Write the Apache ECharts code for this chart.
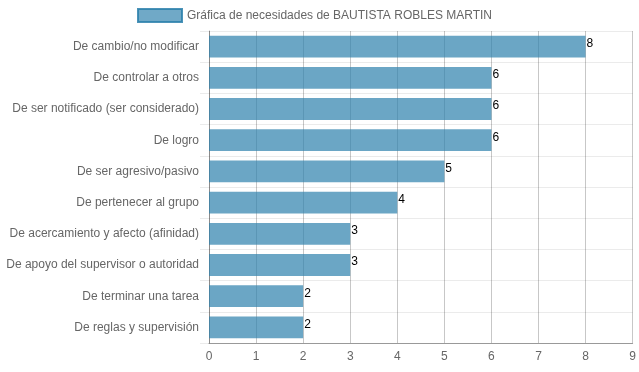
<!DOCTYPE html>
<html>
<head>
<meta charset="utf-8">
<script src="https://cdn.jsdelivr.net/npm/echarts@6/dist/echarts.min.js"></script>
<style>
html,body{margin:0;padding:0;background:#fff;}
#chart{width:639px;height:372px;}
</style>
</head>
<body>
<div id="chart"></div>
<script>
const categories = [
  "De cambio/no modificar",
  "De controlar a otros",
  "De ser notificado (ser considerado)",
  "De logro",
  "De ser agresivo/pasivo",
  "De pertenecer al grupo",
  "De acercamiento y afecto (afinidad)",
  "De apoyo del supervisor o autoridad",
  "De terminar una tarea",
  "De reglas y supervisión"
];
const values = [8, 6, 6, 6, 5, 4, 3, 3, 2, 2];
const seriesName = "Gráfica de necesidades de BAUTISTA ROBLES MARTIN";

const chart = echarts.init(document.getElementById('chart'), null, {renderer: 'canvas'});
const font = "'Liberation Sans', Arial, sans-serif";
chart.setOption({
  animation: false,
  textStyle: {fontFamily: font},
  legend: {
    top: 3,
    left: 132,
    itemWidth: 44,
    itemHeight: 13,
    itemGap: 6,
    icon: 'rect',
    textStyle: {color: '#666', fontSize: 12, fontFamily: font},
    itemStyle: {color: 'rgba(44,128,172,0.68)', borderColor: 'rgba(44,128,172,0.85)', borderWidth: 2}
  },
  grid: {left: 209, right: 6, top: 31, bottom: 29, containLabel: false},
  xAxis: {
    type: 'value',
    min: 0,
    max: 9,
    interval: 1,
    axisLine: {show: true, lineStyle: {color: 'rgba(0,0,0,0.35)'}},
    axisTick: {show: false},
    axisLabel: {color: '#666', fontSize: 12, margin: 8, fontFamily: font},
    splitLine: {show: true, lineStyle: {color: 'rgba(0,0,0,0.22)', width: 1}}
  },
  yAxis: {
    type: 'category',
    inverse: true,
    data: categories,
    axisLine: {show: true, lineStyle: {color: 'rgba(0,0,0,0.3)'}},
    axisTick: {show: true, length: 9, lineStyle: {color: 'rgba(0,0,0,0.08)'}},
    axisLabel: {color: '#666', fontSize: 12, margin: 10, fontFamily: font},
    splitLine: {show: true, lineStyle: {color: 'rgba(0,0,0,0.08)'}}
  },
  series: [{
    name: seriesName,
    type: 'bar',
    data: values,
    barCategoryGap: '30%',
    itemStyle: {color: 'rgba(44,128,172,0.7)'},
    z: 3,
    label: {
      show: true,
      position: 'right',
      distance: 1,
      offset: [0, -3],
      color: '#000',
      fontSize: 12,
      fontFamily: font
    }
  }]
});
</script>
</body>
</html>
